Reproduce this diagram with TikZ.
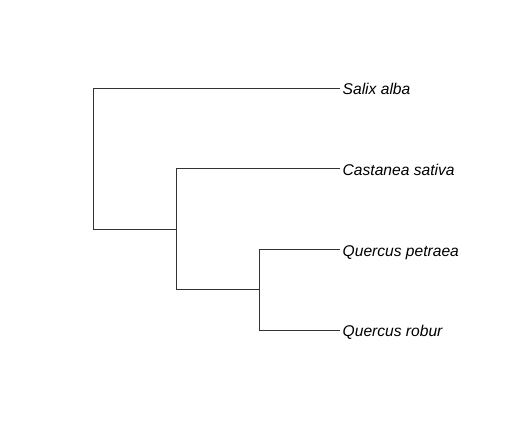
\documentclass[tikz,border=0pt]{standalone}
\usepackage{fontspec}
\setmainfont{Liberation Sans}
\begin{document}
\begin{tikzpicture}[x=1pt,y=-1pt,
  branch/.style={draw=black!80, line width=1pt},
  leaf/.style={anchor=base west, inner sep=2.5pt, font=\fontsize{15.6}{18}\selectfont\itshape}]
\useasboundingbox (0,0) rectangle (522,438);
\coordinate (r) at (93.3,229.3);
\coordinate (rt) at (93.3,88.3);
\coordinate (n1) at (176.3,229.3);
\coordinate (n1t) at (176.3,169);
\coordinate (n1b) at (176.3,290);
\coordinate (n2) at (259.3,290);
\coordinate (n2t) at (259.3,249.5);
\coordinate (n2b) at (259.3,330);
\coordinate (e1) at (340,88.3);
\coordinate (e2) at (340,169);
\coordinate (e3) at (340,249.5);
\coordinate (e4) at (340,330);
\node[leaf] (salix) at (340,95) {Salix alba};
\node[leaf] (cast) at (340,175.7) {Castanea sativa};
\node[leaf] (qp) at (340,256.2) {Quercus petraea};
\node[leaf] (qr) at (340,336.7) {Quercus robur};
\draw[branch] (e1) -- (rt) -- (r) -- (n1);
\draw[branch] (e2) -- (n1t) -- (n1b) -- (n2);
\draw[branch] (e3) -- (n2t) -- (n2b) -- (e4);
\end{tikzpicture}
\end{document}
